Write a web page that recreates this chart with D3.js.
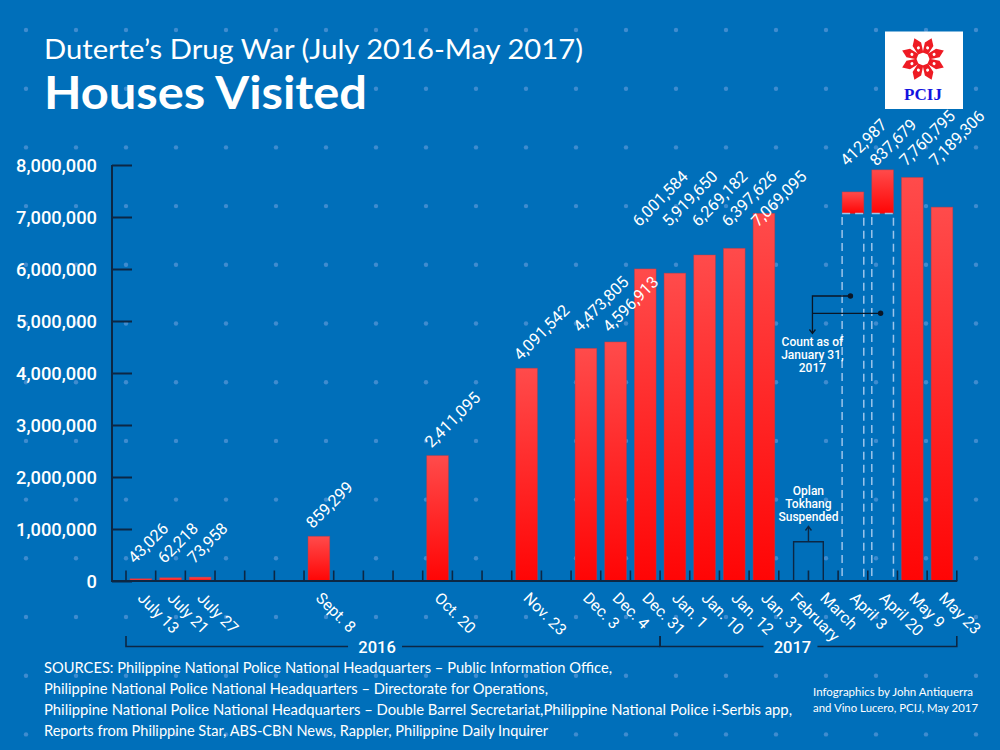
<!DOCTYPE html>
<html><head><meta charset="utf-8">
<script src="https://cdn.jsdelivr.net/npm/d3@7"></script>
<style>body{margin:0;background:#006fba;} svg{display:block}</style>
</head><body><svg id="c" width="1000" height="750"></svg>
<script>
// ---------- DATA ----------
const categories = ["July 13","July 21","July 27","","","","Sept. 8","","","","Oct. 20","","","Nov. 23","","Dec. 3","Dec. 4","Dec. 31","Jan. 1","Jan. 10","Jan. 12","Jan. 31","February","March","April 3","April 20","May 9","May 23"];
const housesVisited = [43026,62218,73958,null,null,null,859299,null,null,null,2411095,null,null,4091542,null,4473805,4596913,6001584,5919650,6269182,6397626,7069095,null,null,412987,837679,7760795,7189306];
const stackedCategories = ["April 3","April 20"];   // counted on top of the Jan. 31 total
const baseCount = 7069095;                           // count as of January 31, 2017
const yTicks = [0,1000000,2000000,3000000,4000000,5000000,6000000,7000000,8000000];
const years = ["2016","2017"];
const yearStarts = ["July 13","Jan. 1"];
const yearEnds = ["Dec. 31","May 23"];
const labelGroups = [["July 13","July 21","July 27"],["Dec. 3","Dec. 4"],["Dec. 31","Jan. 1","Jan. 10","Jan. 12","Jan. 31"],["April 3","April 20","May 9","May 23"]];
const suspendedCategories = ["February","March"];
const titleLine1 = "Duterte\u2019s Drug War (July 2016-May 2017)";
const titleLine2 = "Houses Visited";
const sources = ["SOURCES: Philippine National Police National Headquarters \u2013 Public Information Office,",
 "Philippine National Police National Headquarters \u2013 Directorate for Operations,",
 "Philippine National Police National Headquarters \u2013 Double Barrel Secretariat,Philippine National Police i-Serbis app,",
 "Reports from Philippine Star, ABS-CBN News, Rappler, Philippine Daily Inquirer"];
const credits = ["Infographics by John Antiquerra","and Vino Lucero, PCIJ, May 2017"];

// ---------- LAYOUT ----------
const svg = d3.select("#c");
const W = 1000, H = 750;
const BG = "#006fba", AXIS = "#0c2744";
svg.append("rect").attr("width",W).attr("height",H).attr("fill",BG);

// dot pattern
const dotsX = d3.range(26, W, 50), dotsY = d3.range(0, 13).map(i => 30 + i*58.7);
const dg = svg.append("g");
dotsY.forEach(yy => dotsX.forEach(xx => dg.append("circle").attr("cx",xx).attr("cy",yy).attr("r",2.2).attr("fill","#3f8ccf")));

const x = d3.scaleBand().domain(d3.range(categories.length)).range([126, 956.8]).paddingInner(0.27).paddingOuter(0.135);
const slot = (956.8 - 126) / categories.length;
const y = d3.scaleLinear().domain([0, 8000000]).range([581, 165]);
const idx = c => categories.indexOf(c);
const cx = i => x(i) + x.bandwidth()/2;
const fmt = d3.format(",");

// gradient
const defs = svg.append("defs");
const gr = defs.append("linearGradient").attr("id","barg").attr("x1",0).attr("y1",0).attr("x2",0).attr("y2",1);
gr.append("stop").attr("offset","0%").attr("stop-color","#ff4b4b");
gr.append("stop").attr("offset","100%").attr("stop-color","#ff0505");

// bars
const bars = housesVisited.map((v,i) => ({i, v, cat: categories[i],
  base: stackedCategories.includes(categories[i]) ? baseCount : 0})).filter(d => d.v != null);
svg.append("g").selectAll("rect").data(bars).join("rect")
  .attr("x", d => x(d.i)).attr("width", x.bandwidth())
  .attr("y", d => y(d.base + d.v)).attr("height", d => y(d.base) - y(d.base + d.v))
  .attr("fill","url(#barg)").attr("stroke","rgba(190,60,70,0.55)").attr("stroke-width",0.8);

// dashed boxes for stacked bars
svg.append("g").selectAll("rect").data(bars.filter(d => d.base > 0)).join("rect")
  .attr("x", d => x(d.i)).attr("width", x.bandwidth())
  .attr("y", y(baseCount)).attr("height", y(0) - y(baseCount))
  .attr("fill","none").attr("stroke","#9cc4ea").attr("stroke-width",1.5).attr("stroke-dasharray","8,5");

// axes
const yAxis = d3.axisRight(y).tickValues(yTicks).tickSize(20).tickFormat("");
const gy = svg.append("g").attr("transform","translate(112,0)").call(yAxis);
gy.select(".domain").attr("stroke",AXIS).attr("stroke-width",2).attr("d","M0,165V581");
gy.selectAll(".tick line").attr("stroke",AXIS).attr("stroke-width",2);
svg.append("g").selectAll("text").data(yTicks).join("text")
  .attr("x",97).attr("y",d => y(d)+6.5).attr("text-anchor","end")
  .attr("font-family","Roboto").attr("font-weight",500).attr("font-size",18.3).attr("fill","#fff")
  .text(d => fmt(d));

// x axis baseline and ticks at slot boundaries
const xa = svg.append("g");
xa.append("line").attr("x1",111).attr("x2",957.3).attr("y1",581).attr("y2",581).attr("stroke",AXIS).attr("stroke-width",2);
xa.selectAll("line.t").data(d3.range(categories.length+1)).join("line").attr("class","t")
  .attr("x1", i => 126 + i*slot).attr("x2", i => 126 + i*slot)
  .attr("y1",570.5).attr("y2",581).attr("stroke",AXIS).attr("stroke-width",1.6);
xa.selectAll("text").data(categories.map((c,i)=>({c,i})).filter(d => d.c)).join("text")
  .attr("transform", d => `translate(${cx(d.i)-4},599) rotate(45)`)
  .attr("font-family","Roboto").attr("font-size",15.8).attr("fill","#fff").text(d => d.c);

// value labels
const groupOffset = [-13, -9, 14, -3];
function labelY(d){
  const gi = labelGroups.findIndex(g => g.includes(d.cat));
  if (gi < 0) return y(d.base + d.v) - 7;
  const top = d3.min(labelGroups[gi].map(c => { const j = idx(c); const b = stackedCategories.includes(c) ? baseCount : 0; return y(b + housesVisited[j]); }));
  return top + groupOffset[gi];
}
svg.append("g").selectAll("text").data(bars).join("text")
  .attr("transform", d => `translate(${cx(d.i)-6},${labelY(d)}) rotate(-45)`)
  .attr("font-family","Roboto").attr("font-size",16.3).attr("fill","#fff").text(d => fmt(d.v));

// year brackets
years.forEach((yr,k) => {
  const x0 = x(idx(yearStarts[k])) - (slot - x.bandwidth())/2;
  const x1 = x(idx(yearEnds[k])) + x.bandwidth() + (slot - x.bandwidth())/2;
  const tx = (x0 + x1)/2 - 16;
  const g = svg.append("g").attr("stroke",AXIS).attr("stroke-width",1.6).attr("fill","none");
  g.append("path").attr("d",`M${x0},636V646.5H${tx-29}`);
  g.append("path").attr("d",`M${tx+25},646.5H${x1}` + (k === years.length-1 ? "V636" : ""));
  if (k > 0) g.append("path").attr("d",`M${x0},636V646.5`);
  svg.append("text").attr("x",tx).attr("y",652.5).attr("text-anchor","middle")
    .attr("font-family","Roboto").attr("font-weight",500).attr("font-size",16.5).attr("fill","#fff").text(yr);
});

// Oplan Tokhang suspended bracket
{
  const a = cx(idx(suspendedCategories[0])), b = cx(idx(suspendedCategories[1]));
  const m = (a+b)/2;
  const g = svg.append("g").attr("stroke",AXIS).attr("stroke-width",1.4).attr("fill","none");
  g.append("path").attr("d",`M${a},581V541.7H${b}V581`);
  g.append("path").attr("d",`M${m},541.7V527`);
  g.append("path").attr("d",`M${m-3},530.5L${m},526.5L${m+3},530.5`);
  const t = svg.append("text").attr("text-anchor","middle").attr("font-family","Roboto").attr("font-weight",500)
    .attr("font-size",12).attr("fill","#fff");
  ["Oplan","Tokhang","Suspended"].forEach((s,k) => t.append("tspan").attr("x",m).attr("y",495 + k*13).text(s));
}

// Count as of Jan 31 annotation
{
  const m = x(idx(suspendedCategories[1]));
  const s1 = bars.find(d => d.cat === stackedCategories[0]), s2 = bars.find(d => d.cat === stackedCategories[1]);
  const p1 = [cx(s1.i)-2.5, 296], p2 = [cx(s2.i)-2, 313.3];
  const g = svg.append("g").attr("stroke","#0a1626").attr("stroke-width",1.3).attr("fill","none");
  g.append("path").attr("d",`M${p1[0]},${p1[1]}H${m}V333`);
  g.append("path").attr("d",`M${p2[0]},${p2[1]}H${m}`);
  g.append("path").attr("d",`M${m-3},329.5L${m},333.5L${m+3},329.5`);
  svg.append("circle").attr("cx",p1[0]).attr("cy",p1[1]).attr("r",2.7).attr("fill","#0a1626");
  svg.append("circle").attr("cx",p2[0]).attr("cy",p2[1]).attr("r",2.7).attr("fill","#0a1626");
  const t = svg.append("text").attr("text-anchor","middle").attr("font-family","Roboto").attr("font-weight",500)
    .attr("font-size",12).attr("fill","#fff");
  ["Count as of","January 31,","2017"].forEach((s,k) => t.append("tspan").attr("x",m).attr("y",346 + k*12.9).text(s));
}

// titles
svg.append("text").attr("x",44).attr("y",59).attr("font-family","Lato").attr("font-size",26)
  .attr("fill","#fff").attr("textLength",539).attr("lengthAdjust","spacingAndGlyphs").text(titleLine1);
svg.append("text").attr("x",44).attr("y",109).attr("font-family","Lato").attr("font-weight",700).attr("font-size",45)
  .attr("fill","#fff").attr("textLength",323).attr("lengthAdjust","spacingAndGlyphs").text(titleLine2);

// sources & credits
const srcW = [568, 504, 748, 504];
sources.forEach((s,k) => svg.append("text").attr("x",44).attr("y",673 + k*21).attr("font-family","Lato")
  .attr("font-size",15).attr("fill","#fff").attr("textLength",srcW[k]).attr("lengthAdjust","spacingAndGlyphs").text(s));
const crW = [160, 165];
credits.forEach((s,k) => svg.append("text").attr("x",813).attr("y",696 + k*16).attr("font-family","Lato")
  .attr("font-size",12).attr("fill","#fff").attr("textLength",crW[k]).attr("lengthAdjust","spacingAndGlyphs").text(s));

// PCIJ logo
{
  const g = svg.append("g");
  g.append("rect").attr("x",885).attr("y",31.5).attr("width",78).attr("height",77.5).attr("fill","#fff");
  const c = [923, 59];
  d3.range(8).forEach(k => {
    const p = g.append("g").attr("transform",`translate(${c[0]},${c[1]}) rotate(${-90 + 22.5 + k*45})`);
    p.append("path").attr("d","M6,-2.8L16,-4.6L22.5,0L16,4.6L6,2.8Z").attr("fill","#ee1b24");
    p.append("circle").attr("cx",12).attr("cy",0).attr("r",1.5).attr("fill","#fff");
  });
  g.append("text").attr("x",923).attr("y",99.5).attr("text-anchor","middle").attr("font-family","Liberation Serif")
    .attr("font-weight",700).attr("font-size",17).attr("fill","#1212e0").text("PCIJ");
}
</script></body></html>
